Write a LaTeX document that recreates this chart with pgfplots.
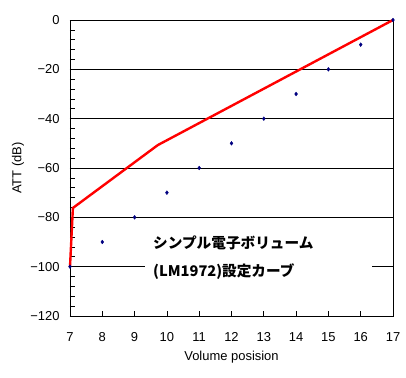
\documentclass[border=0pt]{standalone}
\usepackage{pgfplots}
\pgfplotsset{compat=1.18}
\usepackage{fontspec}
\setmainfont{Liberation Sans}
\newfontfamily\jp{Noto Sans CJK JP}
\begin{document}
\begin{tikzpicture}
\path[use as bounding box] (-70bp,-62bp) rectangle (336bp,316bp);
\begin{axis}[
  scale only axis,
  width=323bp, height=296bp,
  xmin=7, xmax=17, ymin=-120, ymax=0,
  xtick={7,8,...,17},
  ytick={-120,-100,...,0},
  yticklabels={−120,−100,−80,−60,−40,−20,0},
  minor y tick num=4,
  tick pos=left,
  tick align=inside,
  major tick length=5bp,
  minor tick length=5bp,
  ymajorgrids,
  major grid style={black, line width=0.8bp},
  axis line style={black, line width=0.8bp},
  every tick/.style={black, line width=0.7bp},
  /pgf/number format/assume math mode=true,
  ticklabel style={font=\fontsize{13}{15}\selectfont},
  xticklabel style={yshift=-13bp},
  yticklabel style={xshift=-7bp},
  xlabel={Volume posision},
  ylabel={ATT (dB)},
  label style={font=\fontsize{13}{15}\selectfont},
  xlabel style={at={(axis description cs:0.5,-0.138)}, anchor=center},
  ylabel style={at={(axis description cs:-0.161,0.5)}, anchor=center},
  clip=false,
]
\addplot[red, line width=2.4bp] coordinates {(7,-100) (7.09,-76.2) (9.72,-50.7) (17,0)};
\addplot[only marks, mark=diamond*, mark size=1.9bp, color={rgb,255:red,0;green,0;blue,128}] coordinates {
(7,-100) (8,-90) (9,-80) (10,-70) (11,-60) (12,-50) (13,-40) (14,-30) (15,-20) (16,-10) (17,0)};
\fill[white] (axis cs:9.32,-83) rectangle (axis cs:16.35,-112);
\node[anchor=west, inner sep=0pt, font=\jp\bfseries\fontsize{14.7}{17}\selectfont] at (axis cs:9.57,-90.4) {シンプル電子ボリューム};
\node[anchor=west, inner sep=0pt, font=\jp\bfseries\fontsize{14.7}{17}\selectfont] at (axis cs:9.57,-102) {(LM1972)設定カーブ};
\end{axis}
\end{tikzpicture}
\end{document}
